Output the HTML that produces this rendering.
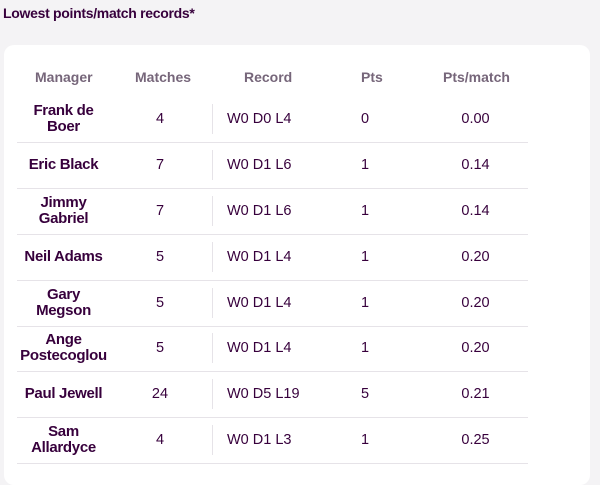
<!DOCTYPE html>
<html><head><style>
html,body{margin:0;padding:0;}
body{width:600px;height:470px;background:#f4f3f5;font-family:"Liberation Sans",sans-serif;position:relative;overflow:hidden;color:#37003c;}
.title{position:absolute;left:3px;top:5px;font-size:14px;font-weight:bold;color:#37003c;letter-spacing:-0.3px}
.card{position:absolute;left:4px;top:45px;width:586px;height:440px;background:#fff;border-radius:10px;}
.h{position:absolute;top:69px;font-size:14px;color:#76667a;font-weight:bold;}
.row{position:absolute;left:17px;width:511px;height:46px;border-bottom:1px solid #e6e3e8;}
.row div{position:absolute;top:0;height:46px;display:flex;align-items:center;font-size:14.5px;}
.m{left:-5px;width:103px;justify-content:center;text-align:center;font-weight:bold;line-height:16px;font-size:15px!important;letter-spacing:-0.3px}
.n{left:123px;width:40px;justify-content:center;}
.vl{left:195px;top:8px!important;height:30px!important;border-left:1px solid #e6e3e8;}
.r{left:210px;}
.p{left:344px;}
.pm{left:430px;width:57px;justify-content:center;}
</style></head><body>
<div class="title">Lowest points/match records*</div>
<div class="card"></div>
<div class="h" style="left:35px">Manager</div>
<div class="h" style="left:135px">Matches</div>
<div class="h" style="left:244px">Record</div>
<div class="h" style="left:361px">Pts</div>
<div class="h" style="left:443px">Pts/match</div>

<div class="row" style="top:96px"><div class="m">Frank de<br>Boer</div><div class="n">4</div><div class="vl"></div><div class="r">W0 D0 L4</div><div class="p">0</div><div class="pm">0.00</div></div>
<div class="row" style="top:142px"><div class="m">Eric Black</div><div class="n">7</div><div class="vl"></div><div class="r">W0 D1 L6</div><div class="p">1</div><div class="pm">0.14</div></div>
<div class="row" style="top:188px"><div class="m">Jimmy<br>Gabriel</div><div class="n">7</div><div class="vl"></div><div class="r">W0 D1 L6</div><div class="p">1</div><div class="pm">0.14</div></div>
<div class="row" style="top:234px"><div class="m">Neil Adams</div><div class="n">5</div><div class="vl"></div><div class="r">W0 D1 L4</div><div class="p">1</div><div class="pm">0.20</div></div>
<div class="row" style="top:280px"><div class="m">Gary<br>Megson</div><div class="n">5</div><div class="vl"></div><div class="r">W0 D1 L4</div><div class="p">1</div><div class="pm">0.20</div></div>
<div class="row" style="top:325px"><div class="m">Ange<br>Postecoglou</div><div class="n">5</div><div class="vl"></div><div class="r">W0 D1 L4</div><div class="p">1</div><div class="pm">0.20</div></div>
<div class="row" style="top:371px"><div class="m">Paul Jewell</div><div class="n">24</div><div class="vl"></div><div class="r">W0 D5 L19</div><div class="p">5</div><div class="pm">0.21</div></div>
<div class="row" style="top:417px"><div class="m">Sam<br>Allardyce</div><div class="n">4</div><div class="vl"></div><div class="r">W0 D1 L3</div><div class="p">1</div><div class="pm">0.25</div></div>
</body></html>
